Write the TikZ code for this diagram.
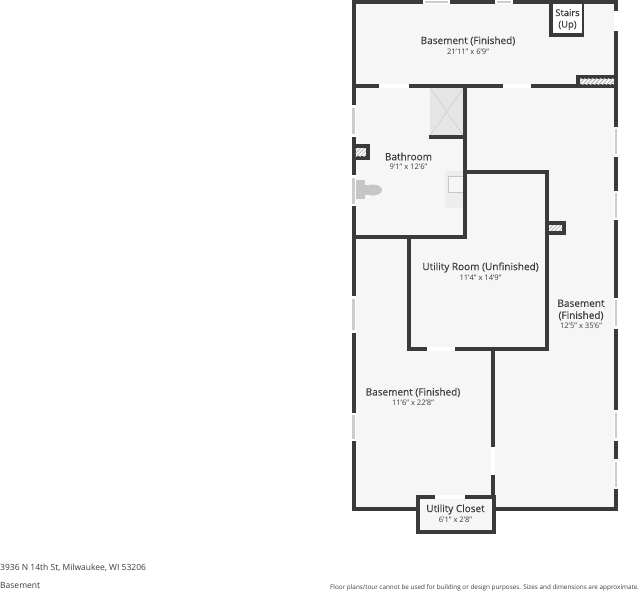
\documentclass[tikz,border=0pt]{standalone}
\usepackage{fontspec}
\setmainfont{Open Sans}
\newfontfamily\roomfont[FakeBold=0.25]{Open Sans}
\usetikzlibrary{patterns.meta}
\definecolor{floorgray}{HTML}{F6F6F6}
\definecolor{wallgray}{HTML}{3A3A3A}
\definecolor{textgray}{HTML}{3C3C3C}
\definecolor{fixgray}{HTML}{C6C6C6}
\tikzset{
  wall/.style={draw=wallgray, line width=4pt, line cap=rect},
  opening/.style={fill=white},
  glass/.style={fill=gray!40},
  flue/.style={pattern={Lines[angle=45, distance=2.8pt, line width=1pt]}, pattern color=gray!55},
  roomname/.style={text=textgray, font=\roomfont\fontsize{10}{12}\selectfont, align=center, inner sep=0pt},
  roomsize/.style={text=textgray, font=\fontsize{7.6}{9}\selectfont, inner sep=0pt},
  footnote/.style={text=textgray, anchor=west, inner sep=0pt}
}
\begin{document}
\begin{tikzpicture}[x=1pt, y=-1pt]
  \useasboundingbox[fill=white] (0,0) rectangle (640,592);
  % floor
  \fill[floorgray] (354,2) rectangle (616,509);
  \fill[floorgray] (418,497) rectangle (493,532);
  \fill[white] (551,4) rectangle (583,35);
  % fixtures
  \fill[gray!20] (430,88) rectangle (463.5,135.5);
  \draw[gray!40, line width=0.5pt] (430,88) -- (463.5,135.5) (463.5,88) -- (430,135.5);
  \fill[gray!14] (445.3,171) rectangle (463.5,208);
  \draw[fixgray, fill=gray!8, line width=0.8pt] (448,176.5) rectangle (463.5,192);
  \fill[fixgray] (355.7,180) rectangle (365,199.3);
  \fill[fixgray] (373,190) ellipse (9 and 5.5);
  \fill[fixgray] (365,185) rectangle (372,195);
  % outer walls
  \draw[wall] (353.7,2) rectangle (616,508.8);
  % inner walls
  \draw[wall] (353.7,86) -- (616,86);
  \draw[wall] (465.3,86) -- (465.3,237.3) -- (353.7,237.3);
  \draw[wall] (430.5,137.3) -- (465.3,137.3);
  \draw[wall] (465.3,172) -- (546.7,172) -- (546.7,349.3) -- (408.7,349.3) -- (408.7,237.3);
  \draw[wall] (493,349.3) -- (493,497);
  % closet
  \fill[white] (419,506) rectangle (492,511.5);
  \fill[floorgray] (419,499) rectangle (491,530);
  \draw[wall] (417.7,497) rectangle (493.5,532);
  % stairs
  \draw[wall] (551.3,2) -- (551.3,34.7) -- (581.5,34.7);
  \draw[wallgray, line width=1.2pt] (583,4) -- (583,33);
  % flues
  \fill[wallgray] (576.3,75.3) rectangle (614,87);
  \fill[white] (580,78.7) rectangle (614,84);
  \fill[flue] (580,78.7) rectangle (614,84);
  \fill[wallgray] (352,144) rectangle (370,160);
  \fill[white] (355.7,148) rectangle (366,156);
  \fill[flue] (355.7,148) rectangle (366,156);
  \fill[wallgray] (547,221.3) rectangle (566,234.7);
  \fill[white] (549,225.3) rectangle (562,230.7);
  \fill[flue] (549,225.3) rectangle (562,230.7);
  % doors
  \foreach \a/\b in {379/409, 503.3/531}
    \fill[opening] (\a,84) rectangle (\b,88);
  \fill[opening] (427.3,347.3) rectangle (455,351.3);
  \fill[opening] (435,495) rectangle (465,499);
  \fill[opening] (491,447.3) rectangle (495,475);
  \fill[opening] (614,10.7) rectangle (618,30.7);
  % windows
  \foreach \a/\b in {422.7/450, 495/512.7} {
    \fill[opening] (\a,0) rectangle (\b,4);
    \fill[glass] (\a+2,1) rectangle (\b-2,3);
  }
  \foreach \a/\b in {105.3/136.7, 175/206, 296/332.7, 412.7/441.3} {
    \fill[opening] (351.7,\a) rectangle (355.7,\b);
    \fill[glass] (352.3,\a+2.5) rectangle (355.1,\b-2.5);
  }
  \foreach \a/\b in {126.7/156.7, 190.7/220, 297.7/328.7, 410/440.7, 459.3/489.3} {
    \fill[opening] (614,\a) rectangle (618,\b);
    \fill[glass] (614.6,\a+2.5) rectangle (617.4,\b-2.5);
  }
  % labels
  \node[roomname] (top) at (468,41) {Basement (Finished)};
  \node[roomsize] (topsize) at (468,51.5) {21'11" x 6'9"};
  \node[roomname, font=\roomfont\fontsize{9.4}{11.5}\selectfont] (stairs) at (567.5,19.5) {Stairs\\(Up)};
  \node[roomname] (bath) at (408.5,156.5) {Bathroom};
  \node[roomsize] (bathsize) at (408.5,166.5) {9'1" x 12'6"};
  \node[roomname] (utility) at (480.5,267.5) {Utility Room (Unfinished)};
  \node[roomsize] (utilitysize) at (480.5,277.5) {11'4" x 14'9"};
  \node[roomname] (east) at (581,310) {Basement\\(Finished)};
  \node[roomsize] (eastsize) at (581,326) {12'5" x 35'6"};
  \node[roomname] (south) at (413,392.5) {Basement (Finished)};
  \node[roomsize] (southsize) at (413,403) {11'6" x 22'8"};
  \node[roomname] (closet) at (455.5,509.5) {Utility Closet};
  \node[roomsize] (closetsize) at (455.5,520) {6'1" x 2'8"};
  % footer
  \node[footnote, font=\fontsize{8.5}{10}\selectfont] (address) at (0,568) {3936 N 14th St, Milwaukee, WI 53206};
  \node[footnote, font=\fontsize{8.5}{10}\selectfont] (level) at (0,585) {Basement};
  \node[footnote, font=\fontsize{6.35}{8}\selectfont] (note) at (330,588) {Floor plans/tour cannot be used for building or design purposes. Sizes and dimensions are approximate.};
\end{tikzpicture}
\end{document}
